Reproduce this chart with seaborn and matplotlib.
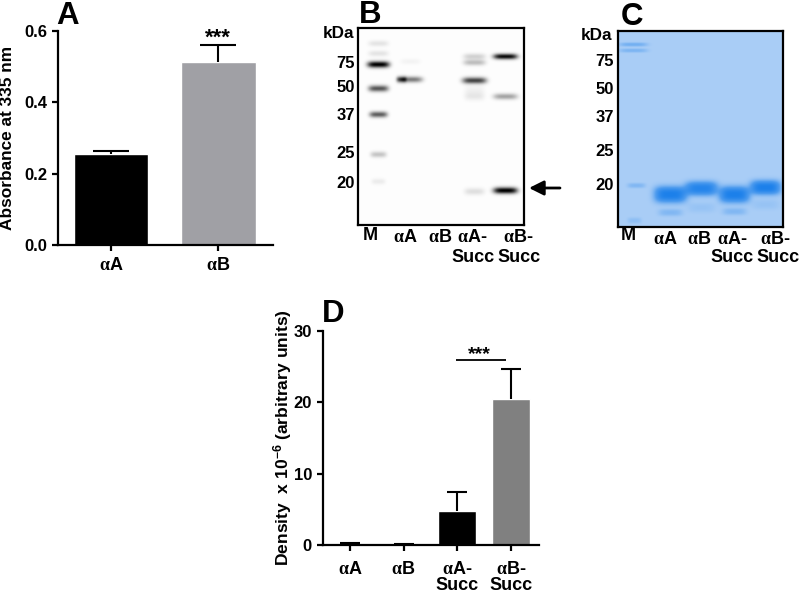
import matplotlib
matplotlib.use('Agg')
import matplotlib.pyplot as plt
from matplotlib.colors import LinearSegmentedColormap
import numpy as np
import pandas as pd
import seaborn as sns

# Panel A
a_labels = ['$\\mathrm{α}$A', '$\\mathrm{α}$B']
a_values = [0.255, 0.513]
a_errors = [0.008, 0.047]
a_colors = ['#000000', '#a0a0a5']

# Panel D
d_labels = ['$\\mathrm{α}$A', '$\\mathrm{α}$B', '$\\mathrm{α}$A-\nSucc', '$\\mathrm{α}$B-\nSucc']
d_values = [0.2, 0.15, 4.7, 20.5]
d_errors = [0.03, 0.03, 2.8, 4.2]
d_colors = ['#000000', '#000000', '#000000', '#808080']

# Gel bands: lane centre, half width, row, half height, darkness
b_lane = [20, 20, 20, 20, 20, 20, 20, 52, 43, 52, 116, 116, 116, 116, 116, 116, 147, 147, 147]
b_hw = [10, 10, 11, 10, 9, 8, 7, 12, 5, 10, 11, 11, 12, 10, 10, 10, 12, 12, 12]
b_row = [15, 25, 36, 60, 86, 126, 153, 51, 51, 33, 28, 34, 52, 62, 68, 163, 28, 68, 162]
b_hh = [3, 3, 3.2, 3.2, 3, 3, 3, 3, 3, 3, 3, 3, 3.2, 5, 4, 3.5, 2.8, 3, 3.2]
b_dark = [.1, .1, 1.0, .65, .62, .22, .07, .5, .5, .04, .17, .25, .72, .05, .08, .12, .95, .35, 1.0]
b_marker = ['75', '50', '37', '25', '20']
b_marker_rows = [63, 87, 115, 153, 184]

c_lane = [15, 15, 18, 16, 52, 52, 83, 83, 116, 116, 147, 147]
c_hw = [14, 14, 9, 7, 16, 12, 16, 14, 15, 12, 15, 14]
c_row = [13, 19, 154, 189, 163, 181, 157, 176, 163, 180, 156, 173]
c_hh = [2, 2, 2.5, 3, 8, 3.5, 7, 5, 8, 3.5, 7, 5]
c_dark = [.3, .25, .22, .15, 1.0, .22, .92, .1, 1.0, .22, 1.0, .1]
c_marker = ['75', '50', '37', '25', '20']
c_marker_rows = [62, 89, 117, 152, 186]

sns.set_style('ticks')
plt.rcParams['font.family'] = ['Liberation Sans', 'DejaVu Sans']
plt.rcParams['font.weight'] = 'bold'
plt.rcParams['mathtext.fontset'] = 'custom'
plt.rcParams['mathtext.rm'] = 'Liberation Serif'
plt.rcParams['mathtext.default'] = 'regular'
plt.rcParams['text.color'] = 'black'
plt.rcParams['xtick.color'] = 'black'
plt.rcParams['ytick.color'] = 'black'
plt.rcParams['axes.edgecolor'] = 'black'

W, H = 800, 595
fig = plt.figure(figsize=(W / 100, H / 100), dpi=100, facecolor='white')


def add_axes(left, top, right, bottom):
    return fig.add_axes([left / W, 1 - bottom / H, (right - left) / W, (bottom - top) / H])


def label(x, y, s, size=12, **kw):
    kw.setdefault('ha', 'center')
    kw.setdefault('va', 'center')
    fig.text(x / W, 1 - y / H, s, fontsize=size, fontweight='bold', **kw)


def letter(x, y, s):
    label(x, y, s, size=22.5, va='baseline')


def bar_panel(ax, labels, values, errors, colors, width, cap, xlim, ylim, yticks, ylabels, pad):
    df = pd.DataFrame({'name': labels, 'value': values})
    sns.barplot(data=df, x='name', y='value', hue='name', palette=colors, legend=False,
                width=width, saturation=1, ax=ax)
    pos = list(range(len(values)))
    _, caps, _ = ax.errorbar(pos, values, yerr=[[0] * len(values), errors], fmt='none',
                             ecolor='black', elinewidth=1.5, capsize=cap, capthick=1.5)
    caps[0].set_visible(False)
    ax.set_xlim(*xlim)
    ax.set_ylim(*ylim)
    ax.set_yticks(yticks, ylabels)
    ax.set_xlabel('')
    ax.set_ylabel('')
    ax.patch.set_alpha(0)
    sns.despine(ax=ax)
    for side in ['left', 'bottom']:
        ax.spines[side].set_linewidth(1.6)
    ax.tick_params(axis='both', width=1.6, length=4.5, labelsize=12)
    ax.tick_params(axis='x', labelsize=13, pad=pad)
    for t in ax.get_xticklabels():
        t.set_linespacing(0.95)


def gel_image(nrows, ncols, lane, hw, row, hh, dark, power):
    y, x = np.mgrid[0:nrows, 0:ncols]
    img = np.zeros((nrows, ncols))
    for cx, w, cy, h, d in zip(lane, hw, row, hh, dark):
        img += d * np.exp(-((x - cx) / w) ** 4) * np.exp(-np.abs((y - cy) / h) ** power)
    return np.clip(img, 0, 1)


def gel_panel(ax, img, cmap):
    sns.heatmap(img, cmap=cmap, vmin=0, vmax=1, cbar=False, xticklabels=False,
                yticklabels=False, ax=ax)
    for spine in ax.spines.values():
        spine.set_visible(True)
        spine.set_linewidth(1.6)
        spine.set_color('black')


# A
ax_a = add_axes(58, 31, 273, 245)
bar_panel(ax_a, a_labels, a_values, a_errors, a_colors, 0.69, 13, (-0.493, 1.507), (0, 0.6),
          [0, 0.2, 0.4, 0.6], ['0.0', '0.2', '0.4', '0.6'], 4)
letter(68, 24, 'A')
label(8, 138, 'Absorbance at 335 nm', size=12.4, rotation=90)
label(218, 38, '***', size=16)

# D
ax_d = add_axes(323, 331, 539, 545)
bar_panel(ax_d, d_labels, d_values, d_errors, d_colors, 0.71, 7, (-0.5, 3.52), (0, 30),
          [0, 10, 20, 30], ['0', '10', '20', '30'], 7)
ax_d.hlines(26, 1.97, 2.9, color='black', lw=1.3)
letter(333, 322, 'D')
label(283, 438, 'Density  x 10$^{-6}$ (arbitrary units)', size=12.6, rotation=90)
label(479, 355, '***', size=14)

# B
ax_b = add_axes(358, 28, 524, 225)
gel_panel(ax_b, gel_image(197, 166, b_lane, b_hw, b_row, b_hh, b_dark, 2),
          LinearSegmentedColormap.from_list('blot', ['#fdfdfd', '#000000']))
letter(370, 23, 'B')
label(338, 33, 'kDa', size=12.3)
for name, row in zip(b_marker, b_marker_rows):
    label(355, row, name, ha='right')
for x, y, s in [(370, 236, 'M'), (405, 238, '$\\mathrm{α}$A'), (440, 238, '$\\mathrm{α}$B'),
                (472, 238, '$\\mathrm{α}$A-'), (518, 238, '$\\mathrm{α}$B-'),
                (473, 257, 'Succ'), (519, 257, 'Succ')]:
    label(x, y, s, size=13)
ax_b.annotate('', xy=(529 - 358, 188 - 28), xytext=(560 - 358, 188 - 28), annotation_clip=False,
              arrowprops=dict(arrowstyle='-|>', color='black', lw=2, mutation_scale=22,
                              shrinkA=0, shrinkB=0))

# C
ax_c = add_axes(618, 31, 783, 227)
gel_panel(ax_c, gel_image(196, 165, c_lane, c_hw, c_row, c_hh, c_dark, 2.6),
          LinearSegmentedColormap.from_list('stain', ['#a9cdf6', '#4f9cee', '#1c80ea']))
letter(632, 25, 'C')
label(597, 36, 'kDa', size=12.3)
for name, row in zip(c_marker, c_marker_rows):
    label(614, row, name, ha='right')
for x, y, s in [(628, 236, 'M'), (665, 240, '$\\mathrm{α}$A'), (699, 240, '$\\mathrm{α}$B'),
                (732, 239, '$\\mathrm{α}$A-'), (775, 240, '$\\mathrm{α}$B-'),
                (732, 258, 'Succ'), (778, 258, 'Succ')]:
    label(x, y, s, size=13)

fig.savefig('out.png', dpi=100)
